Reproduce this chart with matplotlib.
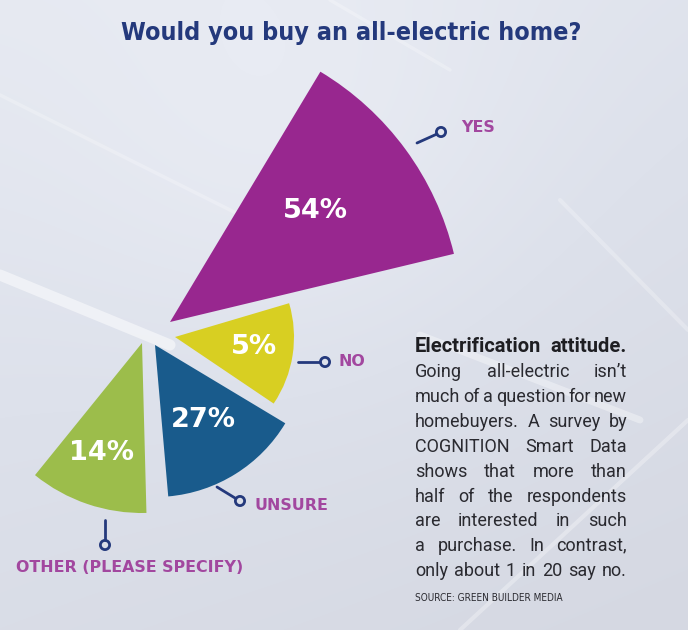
import matplotlib
matplotlib.use('Agg')
import matplotlib.pyplot as plt
from matplotlib.patches import Wedge, Circle
from matplotlib.colors import LinearSegmentedColormap
import numpy as np

# data
categories = ['YES', 'NO', 'UNSURE', 'OTHER (PLEASE SPECIFY)']
values = [54, 5, 27, 14]
colors = ['#98278f', '#d8cf22', '#195b8c', '#9cbd4b']

title = 'Would you buy an all-electric home?'
note_head = 'Electrification attitude.'
note_lines = ["Going all-electric isn\u2019t",
              'much of a question for new',
              'homebuyers. A survey by',
              'COGNITION Smart Data',
              'shows that more than',
              'half of the respondents',
              'are interested in such',
              'a purchase. In contrast,',
              'only about 1 in 20 say no.']
source = 'SOURCE: GREEN BUILDER MEDIA'

# layout in pixels (y down); angles counterclockwise, 0 = right
apex = [(170, 322), (175, 337), (155, 345), (142, 343)]
radius = [292, 119, 152, 170]
angles = [(13.5, 59), (-34, 16.5), (-85, -31), (-129, -88.5)]
pct_pos = [(315, 211), (254, 347), (203, 420), (102, 453)]
label_pos = [(461, 127), (338, 361), (255, 506), (16, 568)]
pin_line = [((417, 143), (437, 134)), ((298, 362), (320, 362)),
            ((217, 487), (235, 498)), ((105, 520), (105, 540))]
pin_dot = [(441, 132), (325, 362), (240, 501), (105, 545)]

navy = '#24397c'
label_col = '#a2479f'
W, H = 688, 630

fig = plt.figure(figsize=(W / 100, H / 100), dpi=100)
ax = fig.add_axes([0, 0, 1, 1])
ax.set_xlim(0, W)
ax.set_ylim(H, 0)
ax.axis('off')

# background
yy, xx = np.mgrid[0:H, 0:W]
bg = 0.55 * (yy / H) + 0.25 * (xx / W) - 0.3 * np.exp(-((xx - 300) ** 2 + (yy - 150) ** 2) / 60000.0)
cmap = LinearSegmentedColormap.from_list('bg', ['#e8ebf3', '#dde1eb', '#d5d8e2'])
ax.imshow(bg, cmap=cmap, extent=[0, W, H, 0], zorder=0, aspect='auto')
for (x0, y0, x1, y1, lw, a) in [(0, 275, 170, 345, 8, 0.5), (420, 335, 640, 420, 5, 0.35),
                                (460, 630, 688, 420, 3, 0.3), (0, 95, 250, 220, 2.5, 0.25),
                                (560, 200, 688, 330, 3, 0.25), (330, 0, 450, 70, 2.5, 0.25)]:
    ax.plot([x0, x1], [y0, y1], color='white', lw=lw, alpha=a, zorder=1, solid_capstyle='round')

# wedges
for i in range(len(categories)):
    a1, a2 = angles[i]
    ax.add_patch(Wedge(apex[i], radius[i], -a2, -a1, facecolor=colors[i], edgecolor='none', zorder=3))
    ax.text(pct_pos[i][0], pct_pos[i][1], f'{values[i]}%', color='white', fontsize=19.5,
            fontweight='bold', family='DejaVu Sans', ha='center', va='center', zorder=4)
    (lx0, ly0), (lx1, ly1) = pin_line[i]
    ax.plot([lx0, lx1], [ly0, ly1], color=navy, lw=2, zorder=4, solid_capstyle='round')
    ax.add_patch(Circle(pin_dot[i], 4.6, facecolor='none', edgecolor=navy, lw=2, zorder=4))
    ax.text(label_pos[i][0], label_pos[i][1], categories[i], color=label_col, fontsize=11.4,
            fontweight='bold', family='DejaVu Sans', ha='left', va='center', zorder=4)

ax.text(351, 33, title, color=navy, fontsize=18, fontweight='bold', fontstretch='condensed',
        family='DejaVu Sans', ha='center', va='center', zorder=5)

# justified side note
fig.canvas.draw()
rend = fig.canvas.get_renderer()
left, right = 415, 627


def justify(line, y, **kw):
    words = line.split(' ')
    arts = [ax.text(0, y, w, ha='left', va='center', zorder=5, **kw) for w in words]
    widths = [t.get_window_extent(rend).width for t in arts]
    gap = (right - left - sum(widths)) / max(len(words) - 1, 1)
    x = left
    for t, w in zip(arts, widths):
        t.set_x(x)
        x += w + gap


justify(note_head, 347, color='#1e1e22', fontsize=14.5, fontweight='bold', family=['Roboto', 'DejaVu Sans'])
for k, line in enumerate(note_lines):
    justify(line, 372 + k * 24.9, color='#2a2a30', fontsize=13, family=['Roboto', 'DejaVu Sans'])
ax.text(left, 598, source, color='#2a2a30', fontsize=7.2, fontstretch='condensed',
        family='DejaVu Sans', ha='left', va='center', zorder=5)

fig.savefig('out.png', dpi=100)
